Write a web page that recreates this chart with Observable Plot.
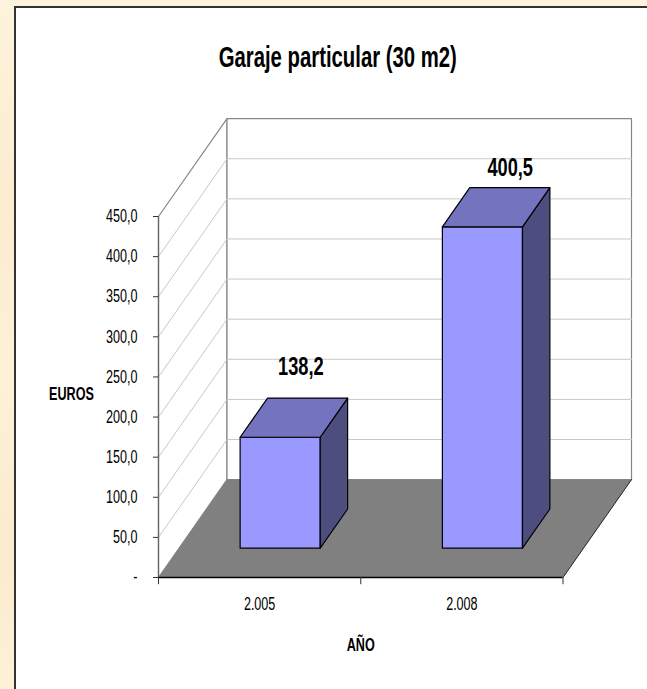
<!DOCTYPE html>
<html>
<head>
<meta charset="utf-8">
<script src="https://cdn.jsdelivr.net/npm/d3@7"></script>
<script src="https://cdn.jsdelivr.net/npm/@observablehq/plot@0.6"></script>
<style>
html,body{margin:0;padding:0;width:647px;height:689px;overflow:hidden;}
body{position:relative;background:
 linear-gradient(180deg,#fdf3dc,#fcecd0 30%,#fdf1d8 55%,#fbebcd 80%,#fdf1d8);}
#panel{position:absolute;left:14px;top:6px;width:640px;height:700px;background:#fff;border:2px solid #333;box-sizing:border-box;}
#chart{position:absolute;left:0;top:0;}
svg text{font-family:"Liberation Sans",Arial,sans-serif;}
</style>
</head>
<body>
<div id="panel"></div>
<div id="chart"></div>
<script>
const categories = ["2.005", "2.008"];
const euros = [138.2, 400.5];
const valueLabels = ["138,2", "400,5"];
const yTicks = [0, 50, 100, 150, 200, 250, 300, 350, 400, 450];
const title = "Garaje particular (30 m2)";
const yTitle = "EUROS";
const xTitle = "AÑO";

// Oblique projection, in data units: depth 1 = the back wall.
const depthX = 0.3387, depthY = 122;
const barFront = 0.3, barBack = 0.7, barHalf = 0.198;
const yMax = 450;
const labelShift = [[0.204, 263], [0.239, 511]];
const proj = (c, v, d) => ({x: c + d * depthX, y: v + d * depthY});
const poly = (id, pts) => pts.map(p => ({id, ...proj(...p)}));

const floor = poly("floor", [[0,0,0],[2,0,0],[2,0,1],[0,0,1]]);
const wallSide = poly("side", [[0,0,0],[0,yMax,0],[0,yMax,1],[0,0,1]]);
const wallBack = poly("back", [[0,0,1],[2,0,1],[2,yMax,1],[0,yMax,1]]);

const bars = euros.flatMap((v, i) => {
  const c = i + 0.5, l = c - barHalf, r = c + barHalf;
  return [
    ...poly("front"+i, [[l,0,barFront],[r,0,barFront],[r,v,barFront],[l,v,barFront]]).map(p => ({...p, fill:"#9999ff"})),
    ...poly("side"+i, [[r,0,barFront],[r,0,barBack],[r,v,barBack],[r,v,barFront]]).map(p => ({...p, fill:"#4d4d80"})),
    ...poly("top"+i, [[l,v,barFront],[r,v,barFront],[r,v,barBack],[l,v,barBack]]).map(p => ({...p, fill:"#7373bf"}))
  ];
});

const gridLines = yTicks.slice(1, -1).flatMap(v =>
  [[0,v,0],[0,v,1],[2,v,1]].map(p => ({id:v, ...proj(...p)}))
);
const xTicksPos = [0, 1, 2];

const labels = euros.map((v, i) => ({
  x: i + 0.5 + labelShift[i][0], y: labelShift[i][1], text: valueLabels[i]
}));

const plot = Plot.plot({
  width: 647, height: 689,
  marginLeft: 158, marginRight: 84.5, marginTop: 216, marginBottom: 112,
  style: {background: "transparent", overflow: "visible"},
  x: {type: "linear", domain: [0, 2], axis: null},
  y: {type: "linear", domain: [0, yMax], axis: null},
  marks: [
    Plot.line([...wallSide, ...wallBack], {x:"x", y:"y", z:"id", curve:"linear-closed", fill:"#fff", stroke:"#868686", strokeWidth:1.2}),
    Plot.line(gridLines, {x:"x", y:"y", z:"id", stroke:"#c8c8c8", strokeWidth:1}),
    Plot.line(floor, {x:"x", y:"y", z:"id", curve:"linear-closed", fill:"#808080", stroke:"none"}),
    Plot.line(bars, {x:"x", y:"y", z:"id", curve:"linear-closed", fill:"fill", stroke:"#000", strokeWidth:1.2}),
    Plot.ruleX([0], {y1:0, y2:yMax, stroke:"#666", strokeWidth:1.3}),
    Plot.ruleY([0], {x1:0, x2:2, stroke:"#000", strokeWidth:1.3}),
    Plot.line(floor.slice(1,3), {x:"x", y:"y", stroke:"#222", strokeWidth:1}),
    Plot.ruleX(xTicksPos, {x:d=>d, y1:0, y2:-9, stroke:"#333", strokeWidth:1}),
    Plot.axisY({ticks: yTicks, tickFormat: v => v === 0 ? "-" : d3.format(".1f")(v).replace(".", ","), tickSize: 5, tickPadding: 16, fontSize: 18, stroke:"#333", fill:"#000", label:null, textStroke:"none"}),
    Plot.text(categories, {x:(d,i)=>i+0.5, y:()=>0, text:d=>d, dy:27, fontSize:18, fill:"#000"}),
    Plot.text(labels, {x:"x", y:"y", text:"text", fontSize:26, fontWeight:"bold", fill:"#000"}),
    Plot.text([title], {x:()=>1, y:()=>yMax, text:d=>d, dy:-159, dx:-23, fontSize:29, fontWeight:"bold", fill:"#000"}),
    Plot.text([xTitle], {x:()=>1, y:()=>0, text:d=>d, dy:68, fontSize:18, fontWeight:"bold", fill:"#000"}),
    Plot.text([yTitle], {x:()=>0, y:()=>228, text:d=>d, dx:-87, fontSize:18, fontWeight:"bold", fill:"#000"})
  ]
});
document.getElementById("chart").appendChild(plot);
// The reference's type is horizontally condensed.
plot.querySelectorAll("text").forEach(t => {
  const L = t.getComputedTextLength();
  t.setAttribute("textLength", (L * 0.7).toFixed(1));
  t.setAttribute("lengthAdjust", "spacingAndGlyphs");
});
</script>
</body>
</html>
